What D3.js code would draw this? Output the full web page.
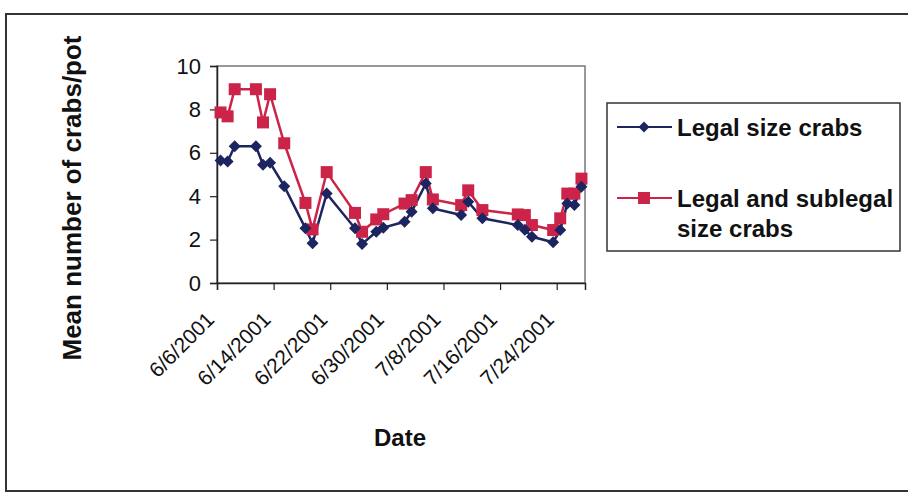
<!DOCTYPE html>
<html>
<head>
<meta charset="utf-8">
<script src="https://cdn.jsdelivr.net/npm/d3@7"></script>
<style>
  html, body { margin: 0; padding: 0; background: #fff; }
  svg { display: block; }
  text { font-family: "Liberation Sans", Arial, sans-serif; fill: #111; }
</style>
</head>
<body>
<svg id="chart" width="908" height="494"></svg>
<script>
// ---- Data ----
const sampleDates = ["2001-06-06","2001-06-07","2001-06-08","2001-06-11","2001-06-12","2001-06-13","2001-06-15",
  "2001-06-18","2001-06-19","2001-06-21","2001-06-25","2001-06-26","2001-06-28","2001-06-29",
  "2001-07-02","2001-07-03","2001-07-05","2001-07-06","2001-07-10","2001-07-11","2001-07-13",
  "2001-07-18","2001-07-19","2001-07-20","2001-07-23","2001-07-24","2001-07-25","2001-07-26","2001-07-27"];
const legalSize = [5.65,5.60,6.30,6.30,5.45,5.54,4.46,
  2.52,1.83,4.12,2.52,1.80,2.36,2.55,
  2.82,3.28,4.58,3.44,3.13,3.74,2.98,
  2.67,2.45,2.13,1.88,2.44,3.66,3.59,4.43];
const legalAndSublegal = [7.86,7.68,8.93,8.93,7.40,8.70,6.44,
  3.69,2.47,5.11,3.23,2.36,2.93,3.17,
  3.66,3.82,5.11,3.85,3.59,4.27,3.36,
  3.16,3.13,2.67,2.44,2.98,4.12,4.12,4.81];
const seriesNames = ["Legal size crabs", "Legal and sublegal size crabs"];
const yTickValues = [0, 2, 4, 6, 8, 10];
const xTickLabels = ["6/6/2001","6/14/2001","6/22/2001","6/30/2001","7/8/2001","7/16/2001","7/24/2001"];
const xDomain = ["2001-06-06", "2001-07-28"];

// ---- Drawing ----
const svg = d3.select("#chart");
const blue = "#1d2560";
const red = "#cc2449";
const parse = d3.timeParse("%Y-%m-%d");
const parseTick = d3.timeParse("%m/%d/%Y");

const plot = { left: 217, right: 585, top: 66, bottom: 283 };

// outer border
svg.append("rect").attr("x", 6).attr("y", 14).attr("width", 940).attr("height", 477)
  .attr("fill", "none").attr("stroke", "#333").attr("stroke-width", 2);

const x = d3.scaleTime().domain(xDomain.map(parse)).range([plot.left, plot.right]);
const y = d3.scaleLinear().domain([0, 10]).range([plot.bottom, plot.top]);
const halfDay = 12 * 3600 * 1000;
const px = d => x(new Date(d.getTime() + halfDay));

// plot area frame
svg.append("rect").attr("x", plot.left).attr("y", plot.top)
  .attr("width", plot.right - plot.left).attr("height", plot.bottom - plot.top)
  .attr("fill", "#fff").attr("stroke", "#777").attr("stroke-width", 1.5);

// y axis
const yAxis = svg.append("g").attr("transform", `translate(${plot.left},0)`)
  .call(d3.axisLeft(y).tickValues(yTickValues).tickSize(7).tickPadding(9).tickFormat(d3.format("d")));
yAxis.select(".domain").attr("stroke", "#222").attr("stroke-width", 1.5);
yAxis.selectAll(".tick line").attr("stroke", "#222").attr("stroke-width", 1.2);
yAxis.selectAll("text").style("font-size", "22px").attr("fill", "#111");

// x axis
const xAxis = svg.append("g").attr("transform", `translate(0,${plot.bottom})`)
  .call(d3.axisBottom(x).tickValues(xTickLabels.map(parseTick)).tickSize(7)
    .tickFormat((d, i) => xTickLabels[i]));
xAxis.select(".domain").attr("stroke", "#222").attr("stroke-width", 1.5);
xAxis.selectAll(".tick line").attr("stroke", "#222").attr("stroke-width", 1.2);
xAxis.selectAll("text")
  .style("font-size", "21px").attr("fill", "#111")
  .attr("text-anchor", "end")
  .attr("x", 0).attr("y", 0).attr("dy", 0)
  .attr("transform", "translate(-2,38) rotate(-45)");

// series
const d1 = sampleDates.map((s, i) => ({ d: parse(s), v: legalSize[i] }));
const d2 = sampleDates.map((s, i) => ({ d: parse(s), v: legalAndSublegal[i] }));
const line = d3.line().x(p => px(p.d)).y(p => y(p.v));

svg.append("path").datum(d2).attr("d", line).attr("fill", "none").attr("stroke", red).attr("stroke-width", 2.5);
svg.append("path").datum(d1).attr("d", line).attr("fill", "none").attr("stroke", blue).attr("stroke-width", 2.5);

svg.append("g").selectAll("rect").data(d2).join("rect")
  .attr("x", p => px(p.d) - 6).attr("y", p => y(p.v) - 6)
  .attr("width", 12).attr("height", 12).attr("fill", red);

svg.append("g").selectAll("path").data(d1).join("path")
  .attr("d", d3.symbol().type(d3.symbolSquare).size(72)())
  .attr("transform", p => `translate(${px(p.d)},${y(p.v)}) rotate(45)`)
  .attr("fill", blue);

// axis titles
svg.append("text")
  .attr("transform", "translate(81,198) rotate(-90)")
  .attr("text-anchor", "middle")
  .style("font-size", "26px").style("font-weight", "bold")
  .text("Mean number of crabs/pot");

svg.append("text")
  .attr("x", 400).attr("y", 446)
  .attr("text-anchor", "middle")
  .style("font-size", "24px").style("font-weight", "bold")
  .text("Date");

// legend
const lg = svg.append("g");
lg.append("rect").attr("x", 607).attr("y", 103).attr("width", 293).attr("height", 148)
  .attr("fill", "#fff").attr("stroke", "#333").attr("stroke-width", 1.5);
lg.append("line").attr("x1", 617).attr("x2", 672).attr("y1", 127).attr("y2", 127)
  .attr("stroke", blue).attr("stroke-width", 2);
lg.append("path").attr("d", d3.symbol().type(d3.symbolSquare).size(60)())
  .attr("transform", "translate(644,127) rotate(45)").attr("fill", blue);
lg.append("text").attr("x", 677).attr("y", 136).style("font-size", "24px").style("font-weight", "bold")
  .text(seriesNames[0]);
lg.append("line").attr("x1", 617).attr("x2", 672).attr("y1", 198).attr("y2", 198)
  .attr("stroke", red).attr("stroke-width", 2);
lg.append("rect").attr("x", 638).attr("y", 192).attr("width", 12).attr("height", 12).attr("fill", red);
const t2 = lg.append("text").style("font-size", "24px").style("font-weight", "bold");
t2.append("tspan").attr("x", 677).attr("y", 207).text("Legal and sublegal");
t2.append("tspan").attr("x", 677).attr("y", 237).text("size crabs");
</script>
</body>
</html>
